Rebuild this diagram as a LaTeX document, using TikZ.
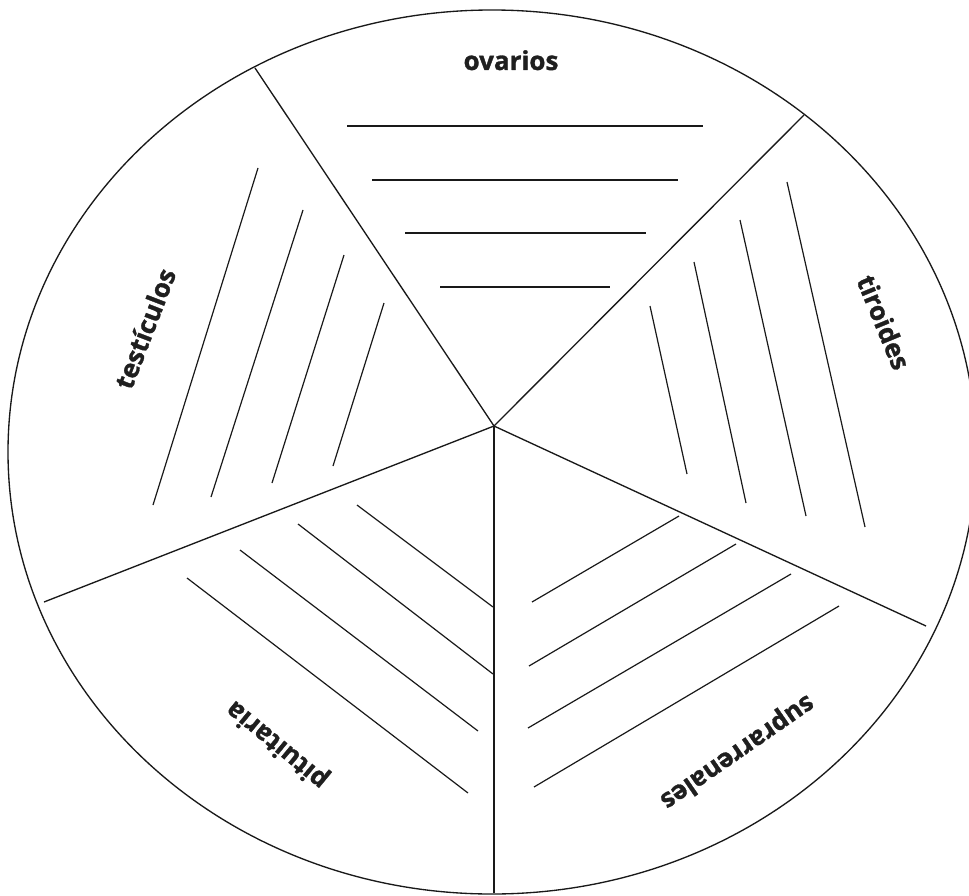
\documentclass[tikz,border=0pt]{standalone}
\usepackage{fontspec}
\setmainfont{Open Sans}
\newfontfamily\lblfont[FakeBold=1.2]{Open Sans Bold}
\tikzset{
  rim/.style={line width=1pt, black!90},
  spoke/.style={line width=1pt, black!90},
  hatch/.style={line width=0.9pt, black!90, line cap=butt},
  lbl/.style={font=\lblfont\fontsize{19.5}{24}\selectfont, text=black!88, inner sep=0pt, anchor=base}
}
\begin{document}
\begin{tikzpicture}[x=0.75pt, y=-0.75pt]
\useasboundingbox (0,0) rectangle (969,895);
\fill[white] (0,0) rectangle (969,895);
% outer rim
\draw[rim] (492,452) ellipse [x radius=363pt, y radius=331.5pt];
% spokes
\coordinate (C) at (494,426);
\coordinate (P1) at (255,68);
\coordinate (P2) at (804,115);
\coordinate (P3) at (926,626);
\coordinate (P4) at (494,893);
\coordinate (P5) at (44,602);
\foreach \p in {P1,P2,P3,P4,P5} \draw[spoke] (C) -- (\p);
% ovarios hatch
\draw[hatch] (347,126) -- (703,126);
\draw[hatch] (372,180) -- (678,180);
\draw[hatch] (405,233) -- (646,233);
\draw[hatch] (440,287) -- (610,287);
% testiculos hatch
\draw[hatch] (258,168) -- (153,505);
\draw[hatch] (303,210) -- (211,497);
\draw[hatch] (344,255) -- (272,483);
\draw[hatch] (384,303) -- (333,466);
% tiroides hatch
\draw[hatch] (787,182) -- (865,527);
\draw[hatch] (740,220) -- (806,516);
\draw[hatch] (694,262) -- (746,503);
\draw[hatch] (650,306) -- (687,474);
% suprarrenales hatch
\draw[hatch] (679,516) -- (532,602);
\draw[hatch] (736,544) -- (529,666);
\draw[hatch] (791,574) -- (528,728);
\draw[hatch] (839,606) -- (534,787);
% pituitaria hatch
\draw[hatch] (357,505) -- (493,607);
\draw[hatch] (298,524) -- (493,674);
\draw[hatch] (240,550) -- (478,731);
\draw[hatch] (187,578) -- (468,793);
% labels
\node[lbl] (ov) at (511,70) {ovarios};
\node[lbl, rotate=69] (te) at (154,332) {testículos};
\node[lbl, rotate=-67.6] (ti) at (875,326) {tiroides};
\node[lbl, rotate=140.5] (pi) at (282,739) {pituitaria};
\node[lbl, rotate=214.7] (su) at (733,746) {suprarrenales};
\end{tikzpicture}
\end{document}
